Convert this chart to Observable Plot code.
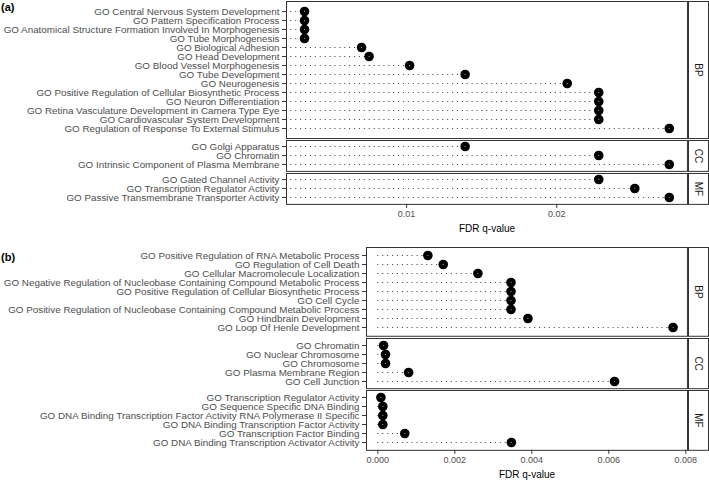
<!DOCTYPE html>
<html><head><meta charset="utf-8">
<script src="https://cdn.jsdelivr.net/npm/d3@7"></script>
<script src="https://cdn.jsdelivr.net/npm/@observablehq/plot@0.6"></script>
<style>
body{margin:0;background:#fff;}
#chart{position:relative;width:709px;height:481px;background:#fff;font-family:"Liberation Sans",Arial,Helvetica,sans-serif;overflow:hidden;}
#chart > *{position:absolute;}
#chart svg, #chart svg text{font-family:"Liberation Sans",Arial,Helvetica,sans-serif !important;}
.tag{font-weight:bold;font-size:11px;color:#000;line-height:11px;}
</style></head><body><div id="chart"></div>
<script>
// ---- data ----
const facetLabels = ["BP", "CC", "MF"];

const aBPTerms = [
  "GO Central Nervous System Development",
  "GO Pattern Specification Process",
  "GO Anatomical Structure Formation Involved In Morphogenesis",
  "GO Tube Morphogenesis",
  "GO Biological Adhesion",
  "GO Head Development",
  "GO Blood Vessel Morphogenesis",
  "GO Tube Development",
  "GO Neurogenesis",
  "GO Positive Regulation of Cellular Biosynthetic Process",
  "GO Neuron Differentiation",
  "GO Retina Vasculature Development in Camera Type Eye",
  "GO Cardiovascular System Development",
  "GO Regulation of Response To External Stimulus"
];
const aBPValues = [0.0032, 0.0032, 0.0032, 0.0032, 0.0070, 0.0075, 0.0102, 0.0139, 0.0207, 0.0228, 0.0228, 0.0228, 0.0228, 0.0275];
const aCCTerms = ["GO Golgi Apparatus", "GO Chromatin", "GO Intrinsic Component of Plasma Membrane"];
const aCCValues = [0.0139, 0.0228, 0.0275];
const aMFTerms = ["GO Gated Channel Activity", "GO Transcription Regulator Activity", "GO Passive Transmembrane Transporter Activity"];
const aMFValues = [0.0228, 0.0252, 0.0275];

const bBPTerms = [
  "GO Positive Regulation of RNA Metabolic Process",
  "GO Regulation of Cell Death",
  "GO Cellular Macromolecule Localization",
  "GO Negative Regulation of Nucleobase Containing Compound Metabolic Process",
  "GO Positive Regulation of Cellular Biosynthetic Process",
  "GO Cell Cycle",
  "GO Positive Regulation of Nucleobase Containing Compound Metabolic Process",
  "GO Hindbrain Development",
  "GO Loop Of Henle Development"
];
const bBPValues = [0.0013, 0.0017, 0.0026, 0.00346, 0.00346, 0.00346, 0.00346, 0.0039, 0.00767];
const bCCTerms = ["GO Chromatin", "GO Nuclear Chromosome", "GO Chromosome", "GO Plasma Membrane Region", "GO Cell Junction"];
const bCCValues = [0.00015, 0.0002, 0.0002, 0.0008, 0.00615];
const bMFTerms = [
  "GO Transcription Regulator Activity",
  "GO Sequence Specific DNA Binding",
  "GO DNA Binding Transcription Factor Activity RNA Polymerase II Specific",
  "GO DNA Binding Transcription Factor Activity",
  "GO Transcription Factor Binding",
  "GO DNA Binding Transcription Activator Activity"
];
const bMFValues = [0.00008, 0.00013, 0.00013, 0.00013, 0.0007, 0.00347];

const aTicks = [0.01, 0.02];
const bTicks = [0, 0.002, 0.004, 0.006, 0.008];
const xTitle = "FDR q-value";

// ---- layout ----
const FONT = '"Liberation Sans", Arial, Helvetica, sans-serif';
const W = 709, PANEL_RIGHT = 687, U = 9.65, GAP = 2.5, STRIP_W = 20;
const chart = document.getElementById("chart");
function place(el, left, top) { el.style.left = left + "px"; el.style.top = top + "px"; chart.appendChild(el); return el; }

function facet({terms, values, label, domain, ticks, fmt, left, top, axis}) {
  const h = (terms.length - 1 + 1.2) * U;
  const data = terms.map((term, i) => ({term, q: values[i]}));
  const mt = 1, mb = axis ? 36 : 1;
  const marks = [
    Plot.ruleY(data, {y: "term", x1: 0, x2: "q", stroke: "#4d4d4d", strokeWidth: 1.1, strokeDasharray: "1.1,3.8", clip: true}),
    Plot.dot(data, {x: "q", y: "term", r: 4.8, fill: "#000"}),
    Plot.dot(data, {x: "q", y: "term", r: 0.6, fill: "#aaa"}),
    Plot.frame({stroke: "#333", strokeWidth: 1}),
    Plot.axisY({tickSize: 4, tickPadding: 3, stroke: "#333", fill: "#4d4d4d", fontSize: 9.85, fontFamily: FONT, label: null})
  ];
  if (axis) {
    marks.push(Plot.axisX({ticks, tickFormat: fmt, tickSize: 4, tickPadding: 2, stroke: "#333", fill: "#4d4d4d", fontSize: 9, fontFamily: FONT, label: null}));
    marks.push(Plot.text([xTitle], {frameAnchor: "bottom", dy: 28, lineAnchor: "bottom", fontSize: 10, fontFamily: FONT, fill: "#000"}));
  }
  const p = Plot.plot({
    width: W, height: h + mt + mb,
    marginLeft: left, marginRight: W - PANEL_RIGHT, marginTop: mt, marginBottom: mb,
    style: {fontFamily: FONT, fontSize: "10px", background: "transparent", overflow: "visible"},
    x: {domain, axis: null},
    y: {type: "point", domain: terms, padding: 0.6, axis: null},
    marks
  });
  place(p, 0, top - mt);
  const s = Plot.plot({
    width: STRIP_W + 2, height: h + 2, margin: 1,
    style: {fontFamily: FONT, background: "transparent", overflow: "visible"},
    marks: [
      Plot.frame({stroke: "#333", strokeWidth: 1, fill: "#fff"}),
      Plot.text([label], {frameAnchor: "middle", rotate: 90, fontSize: 10, fontFamily: FONT, fill: "#1a1a1a"})
    ]
  });
  place(s, PANEL_RIGHT, top - 1);
  return top + h + GAP;
}

function panel(tag, sets, opts, top, tagTop) {
  const t = document.createElement("div");
  t.className = "tag"; t.textContent = tag;
  place(t, 1, tagTop);
  let y = top;
  sets.forEach(([terms, values], i) => {
    y = facet({terms, values, label: facetLabels[i], ...opts, top: y, axis: i === sets.length - 1});
  });
}

panel("(a)", [[aBPTerms, aBPValues], [aCCTerms, aCCValues], [aMFTerms, aMFValues]],
  {domain: [0.002, 0.02871], ticks: aTicks, fmt: d3.format(".2f"), left: 286}, 0.5, 2);
panel("(b)", [[bBPTerms, bBPValues], [bCCTerms, bCCValues], [bMFTerms, bMFValues]],
  {domain: [-0.000294, 0.008044], ticks: bTicks, fmt: d3.format(".3f"), left: 366}, 246.5, 252);
</script>
</body></html>
